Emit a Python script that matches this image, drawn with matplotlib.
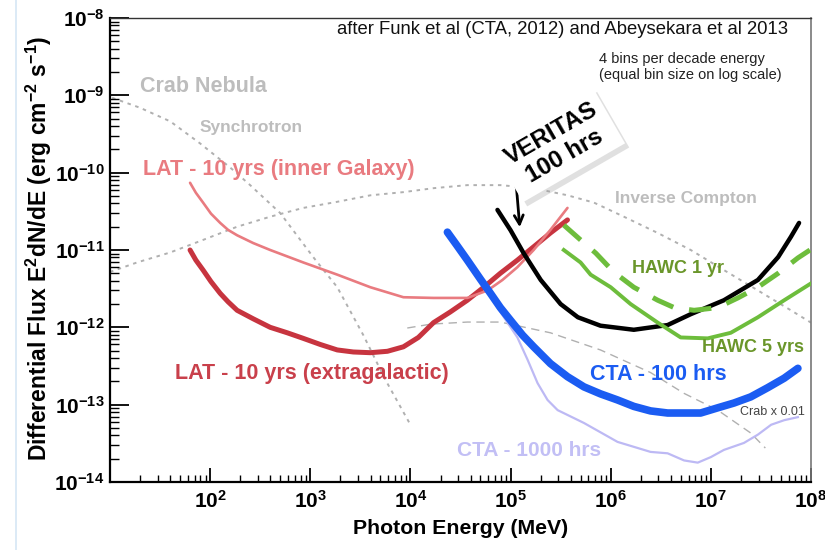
import matplotlib
matplotlib.use("Agg")
import matplotlib.pyplot as plt
from matplotlib import patheffects
from matplotlib.lines import Line2D
from matplotlib.ticker import LogLocator, FuncFormatter, NullFormatter
import numpy as np

plt.rcParams["font.family"] = ["Liberation Sans", "DejaVu Sans"]
plt.rcParams["mathtext.fontset"] = "custom"
plt.rcParams["mathtext.rm"] = "Liberation Sans:bold"
plt.rcParams["mathtext.bf"] = "Liberation Sans:bold"
plt.rcParams["mathtext.it"] = "Liberation Sans:bold"
plt.rcParams["mathtext.sf"] = "Liberation Sans:bold"

# ---- Crab Nebula model (synchrotron and inverse Compton components) ----
sync_E = [10.5, 20, 40, 79, 158, 251, 501, 1070, 1860, 3390, 5620, 1e4]
sync_F = [9.3e-10, 6.9e-10, 4.6e-10, 2.4e-10, 1.17e-10, 6.9e-11, 3.0e-11,
          8.1e-12, 3.3e-12, 7.9e-13, 2.1e-13, 5.5e-14]

ic_E = [10, 18.6, 40, 85, 186, 400, 850, 1860, 4000, 8500, 1.7e4, 3.7e4,
        7.9e4, 1.7e5, 3.7e5, 6.8e5, 1.35e6, 2.95e6, 6.3e6, 1.35e7, 2.95e7,
        6.3e7, 1e8]
ic_F = [5.2e-12, 6.9e-12, 9.3e-12, 1.35e-11, 2.0e-11, 2.7e-11, 3.5e-11,
        4.2e-11, 5.1e-11, 5.6e-11, 6.3e-11, 6.9e-11, 6.9e-11, 6.3e-11,
        5.1e-11, 4.1e-11, 2.7e-11, 1.66e-11, 1.0e-11, 5.5e-12, 3.0e-12,
        1.66e-12, 1.15e-12]

crab01_E = [9.3e3, 1.6e4, 3.7e4, 7.9e4, 2.5e5, 7.9e5, 2.5e6, 5.4e6, 1.17e7,
            2.5e7, 3.5e7]
crab01_F = [9.8e-13, 1.1e-12, 1.17e-12, 1.17e-12, 8.5e-13, 5.1e-13, 2.6e-13,
            1.4e-13, 8.5e-14, 4.3e-14, 2.75e-14]

# ---- Fermi-LAT 10 yr sensitivities ----
lat_gal_E = [63, 72, 85, 102, 126, 151, 186, 269, 398, 851, 1860, 3980,
             8510, 1.7e4, 3.7e4, 5.9e4, 8.3e4, 1.17e5, 1.7e5, 2.5e5, 3.7e5]
lat_gal_F = [7.4e-11, 5.5e-11, 4.1e-11, 2.95e-11, 2.24e-11, 1.82e-11,
             1.55e-11, 1.23e-11, 1.0e-11, 6.9e-12, 4.8e-12, 3.3e-12, 2.45e-12,
             2.4e-12, 2.4e-12, 3.0e-12, 4.1e-12, 6.0e-12, 1.0e-11, 1.82e-11,
             3.5e-11]

lat_xgal_E = [63, 72, 85, 102, 126, 151, 186, 269, 398, 589, 851, 1260,
              1860, 2690, 3980, 5890, 8510, 1.2e4, 1.7e4, 2.5e4, 3.7e4,
              5.4e4, 7.9e4, 1.17e5, 1.7e5, 2.5e5, 3.7e5]
lat_xgal_F = [1.0e-11, 7.4e-12, 5.5e-12, 3.9e-12, 2.75e-12, 2.14e-12,
              1.66e-12, 1.29e-12, 1.0e-12, 8.5e-13, 7.2e-13, 6.0e-13, 5.1e-13,
              4.8e-13, 4.7e-13, 4.9e-13, 5.6e-13, 7.4e-13, 1.15e-12,
              1.58e-12, 2.24e-12, 3.3e-12, 5.0e-12, 7.4e-12, 1.1e-11,
              1.66e-11, 2.45e-11]

# ---- CTA ----
cta100_E = [2.34e4, 2.95e4, 3.7e4, 5.0e4, 6.3e4, 7.9e4, 1e5, 1.32e5, 1.7e5,
            2.5e5, 3.7e5, 5.4e5, 7.9e5, 1.17e6, 1.7e6, 2.5e6, 3.7e6, 5.4e6,
            7.9e6, 1.17e7, 1.7e7, 2.5e7, 3.7e7, 5.4e7, 7.4e7]
cta100_F = [1.7e-11, 1.12e-11, 7.4e-12, 4.2e-12, 2.75e-12, 1.8e-12, 1.23e-12,
            7.9e-13, 5.6e-13, 3.4e-13, 2.3e-13, 1.7e-13, 1.38e-13, 1.15e-13,
            9.5e-14, 8.3e-14, 7.8e-14, 7.8e-14, 7.8e-14, 9.1e-14, 1.05e-13,
            1.26e-13, 1.66e-13, 2.2e-13, 2.95e-13]

cta1000_E = [6.3e4, 7.4e4, 1.17e5, 1.48e5, 1.86e5, 2.34e5, 2.95e5, 5.4e5,
             1.17e6, 2.5e6, 3.7e6, 5.4e6, 7.4e6, 1e7, 1.35e7, 2.14e7, 2.95e7,
             4.0e7, 5.4e7, 7.4e7]
cta1000_F = [2.75e-12, 1.8e-12, 7.4e-13, 3.8e-13, 1.9e-13, 1.15e-13, 8.5e-14,
             5.8e-14, 3.3e-14, 2.45e-14, 2.35e-14, 1.9e-14, 1.78e-14, 2.1e-14,
             2.6e-14, 3.2e-14, 4.1e-14, 5.5e-14, 6.3e-14, 6.9e-14]

# ---- VERITAS ----
veritas_E = [7.4e4, 1e5, 1.35e5, 2.0e5, 3.16e5, 4.7e5, 7.9e5, 1.7e6, 3.7e6,
             6.3e6, 1.35e7, 2.95e7, 4.7e7, 6.3e7, 7.6e7]
veritas_F = [3.3e-11, 1.8e-11, 9.1e-12, 4.1e-12, 2.0e-12, 1.35e-12, 1.05e-12,
             9.3e-13, 1.07e-12, 1.48e-12, 2.24e-12, 4.1e-12, 8.1e-12,
             1.48e-11, 2.24e-11]

# ---- HAWC ----
hawc1_E = [3.4e5, 5.0e5, 7.1e5, 1.07e6, 1.7e6, 2.95e6, 4.3e6, 6.8e6, 1.17e7,
           1.86e7, 2.95e7, 4.7e7, 7.4e7, 1e8]
hawc1_F = [2.1e-11, 1.35e-11, 9.1e-12, 5.2e-12, 3.3e-12, 2.24e-12, 1.8e-12,
           1.66e-12, 1.8e-12, 2.4e-12, 3.3e-12, 5.0e-12, 7.9e-12, 1.02e-11]

hawc5_E = [3.4e5, 5.0e5, 6.3e5, 1e6, 1.58e6, 2.95e6, 5.0e6, 9.3e6, 1.58e7,
           2.95e7, 5.4e7, 1e8]
hawc5_F = [1.0e-11, 6.9e-12, 4.8e-12, 3.3e-12, 2.0e-12, 1.15e-12, 7.4e-13,
           7.2e-13, 8.5e-13, 1.35e-12, 2.24e-12, 3.7e-12]

x_limits = (1e1, 1e8)
y_limits = (1e-14, 1e-8)

W, H = 825, 550
fig = plt.figure(figsize=(W / 100, H / 100), dpi=100)
fig.patch.set_facecolor("white")


def fx(px):
    return px / W


def fy(py):
    return 1 - py / H


ax = fig.add_axes([fx(110), fy(482), (811 - 110) / W, (482 - 18) / H])
ax.set_xscale("log")
ax.set_yscale("log")
ax.set_xlim(*x_limits)
ax.set_ylim(*y_limits)

gray = "#b0b0b0"
ax.plot(sync_E, sync_F, color=gray, lw=1.4, ls=(0, (1.8, 2.4)), zorder=1)
ax.plot(ic_E, ic_F, color=gray, lw=1.4, ls=(0, (1.8, 2.4)), zorder=1)
ax.plot(crab01_E, crab01_F, color="#b0b0b0", lw=1.0, ls=(0, (6, 4)), zorder=1)

ax.plot(lat_xgal_E, lat_xgal_F, color="#c7343f", lw=3.6,
        solid_capstyle="round", solid_joinstyle="round", zorder=3)
ax.plot(lat_gal_E, lat_gal_F, color="#e97b80", lw=1.9,
        solid_capstyle="round", solid_joinstyle="round", zorder=4)
ax.plot(cta1000_E, cta1000_F, color="#bdb9f4", lw=1.6,
        solid_joinstyle="round", zorder=5)
ax.plot(cta100_E, cta100_F, color="#1b5cf2", lw=5.5,
        solid_capstyle="round", solid_joinstyle="round", zorder=6)
ax.plot(veritas_E, veritas_F, color="black", lw=3.2,
        solid_capstyle="round", solid_joinstyle="round", zorder=7)
ax.plot(hawc5_E, hawc5_F, color="#6dbd3c", lw=2.8,
        solid_joinstyle="round", zorder=8)
ax.plot(hawc1_E, hawc1_F, color="#6dbd3c", lw=3.6, ls=(0, (4.5, 3.2)),
        zorder=8)

# ---- axes styling ----
for side in ("left", "bottom"):
    ax.spines[side].set_linewidth(1.6)
    ax.spines[side].set_color("black")
ax.spines["top"].set_linewidth(1.0)
ax.spines["top"].set_color("#333333")
ax.spines["right"].set_linewidth(1.2)
ax.spines["right"].set_color("#777777")

ax.xaxis.set_major_locator(LogLocator(base=10, numticks=20))
ax.yaxis.set_major_locator(LogLocator(base=10, numticks=20))
ax.xaxis.set_minor_locator(LogLocator(base=10, subs=np.arange(2, 10), numticks=50))
ax.yaxis.set_minor_locator(LogLocator(base=10, subs=np.arange(2, 10), numticks=50))


def x_label(v, pos):
    e = int(round(np.log10(v)))
    if e <= 1:
        return ""
    return r"$10^{%d}$" % e


def y_label(v, pos):
    return r"$10^{%d}$" % int(round(np.log10(v)))


ax.xaxis.set_major_formatter(FuncFormatter(x_label))
ax.yaxis.set_major_formatter(FuncFormatter(y_label))
ax.xaxis.set_minor_formatter(NullFormatter())
ax.yaxis.set_minor_formatter(NullFormatter())

ax.tick_params(axis="both", which="both", direction="in", top=False,
               right=False, colors="black", labelsize=15)
ax.tick_params(axis="y", which="major", length=14, width=1.3, pad=4)
ax.tick_params(axis="y", which="minor", length=6.5, width=1.0)
ax.tick_params(axis="x", which="major", length=10, width=1.3, pad=6)
ax.tick_params(axis="x", which="minor", length=5, width=1.0)

ax.set_xlabel("Photon Energy (MeV)", fontsize=15.3, fontweight="bold",
              labelpad=5)
fig.text(fx(39), fy(248),
         r"Differential Flux E$^{2}$dN/dE (erg cm$^{-2}$ s$^{-1}$)",
         rotation=90, fontsize=16.5, fontweight="bold", ha="center",
         va="center")

# ---- annotations ----
fig.text(fx(788), fy(30),
         "after Funk et al (CTA, 2012) and Abeysekara et al 2013",
         fontsize=13.3, ha="right", va="center", color="#111111")
fig.text(fx(599), fy(67),
         "4 bins per decade energy\n(equal bin size on log scale)",
         fontsize=10.5, ha="left", va="center", color="#222222",
         linespacing=1.25)


def label(x, y, s, color, size, weight="bold"):
    fig.text(fx(x), fy(y), s, color=color, fontsize=size, fontweight=weight,
             ha="left", va="center")


label(140, 87, "Crab Nebula", "#bdbdbd", 15.5)
label(200, 128, "Synchrotron", "#bdbdbd", 12.5)
label(143, 170, "LAT - 10 yrs (inner Galaxy)", "#e97b80", 15.5)
label(175, 373, "LAT - 10 yrs (extragalactic)", "#c9404b", 15.5)
label(615, 198, "Inverse Compton", "#bdbdbd", 12.5)
label(632, 269, "HAWC 1 yr", "#6a962a", 13)
label(702, 348, "HAWC 5 yrs", "#6a962a", 13)
label(590, 374, "CTA - 100 hrs", "#1b5cf2", 15.5)
label(740, 412, "Crab x 0.01", "#444444", 9, weight="normal")
label(457, 451, "CTA - 1000 hrs", "#c2bff5", 15)

vt = fig.text(fx(558), fy(145), "VERITAS\n100 hrs", fontsize=17.5,
              fontweight="bold", rotation=30, rotation_mode="anchor",
              ha="center", va="center", multialignment="center",
              linespacing=1.2, color="black",
              bbox=dict(boxstyle="square,pad=0.3", facecolor="white",
                        edgecolor="none"))
vt.get_bbox_patch().set_path_effects([
    patheffects.SimplePatchShadow(offset=(3, -3), shadow_rgbFace="#9a9a9a",
                                  alpha=0.3),
    patheffects.Normal()])

ax.annotate("", xy=(fx(520), fy(230)), xycoords="figure fraction",
            xytext=(fx(516), fy(182)), textcoords="figure fraction",
            arrowprops=dict(arrowstyle="->", color="black", lw=2.0,
                            mutation_scale=16))

# window edge line at the far left
fig.add_artist(Line2D([fx(16), fx(16)], [0, 1], transform=fig.transFigure,
                      color="#d5e6f5", lw=1.2))

fig.savefig("out.png", dpi=100, facecolor="white")
